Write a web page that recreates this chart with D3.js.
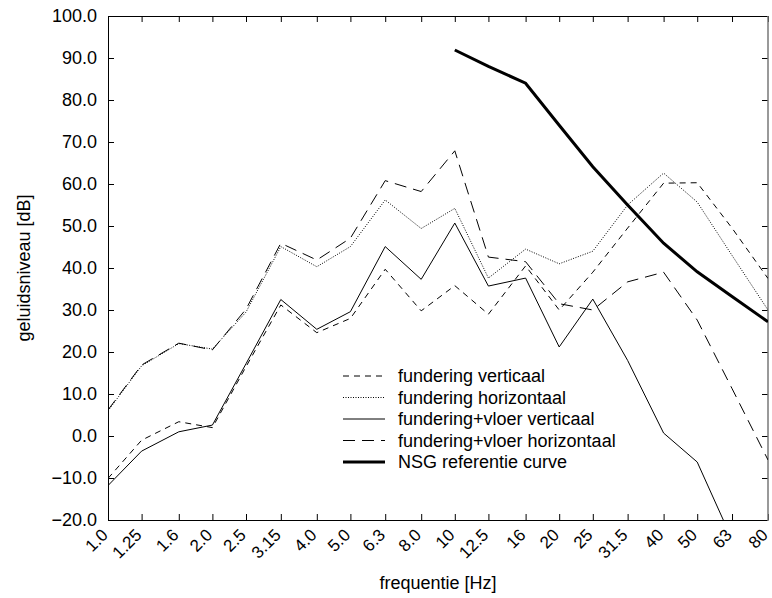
<!DOCTYPE html>
<html>
<head>
<meta charset="utf-8">
<script src="https://cdn.jsdelivr.net/npm/d3@7"></script>
<style>
  body { margin: 0; background: #fff; }
  text { font-family: "Liberation Sans", Arial, Helvetica, sans-serif; fill: #000; }
</style>
</head>
<body>
<svg id="chart" width="772" height="598"></svg>
<script>
// Third-octave band centre frequencies (Hz)
const freqLabels = ["1.0","1.25","1.6","2.0","2.5","3.15","4.0","5.0","6.3","8.0",
                    "10","12.5","16","20","25","31.5","40","50","63","80"];
const freqs = [1.0,1.25,1.6,2.0,2.5,3.15,4.0,5.0,6.3,8.0,10,12.5,16,20,25,31.5,40,50,63,80];
const yTicks = [-20,-10,0,10,20,30,40,50,60,70,80,90,100];

// Sound levels in dB per band
const funderingVerticaal   = [-10.1,-1.0,3.4,2.0,16.5,31.2,24.6,28.0,39.7,29.8,35.8,29.0,40.5,30.0,39.0,49.5,60.2,60.3,49.5,37.5];
const funderingHorizontaal = [6.0,16.7,22.0,20.7,29.5,45.1,40.3,45.1,56.2,49.4,54.2,37.6,44.5,41.0,44.0,55.0,62.6,55.7,43.0,30.0];
const vloerVerticaal       = [-11.8,-3.6,1.0,2.6,17.2,32.5,25.4,29.6,45.1,37.3,50.7,35.7,37.6,21.2,32.6,18.0,0.7,-6.2,-24.6,null];
const vloerHorizontaal     = [6.2,16.9,22.1,20.5,30.2,45.9,41.9,47.1,60.8,58.2,67.9,42.6,41.5,31.5,30.0,36.7,39.0,27.6,11.3,-5.7];
const nsgReferentie        = [null,null,null,null,null,null,null,null,null,null,91.9,88.0,84.0,74.0,64.1,55.0,45.9,39.1,33.2,27.2];

const seriesNames = ["fundering verticaal","fundering horizontaal","fundering+vloer verticaal",
                     "fundering+vloer horizontaal","NSG referentie curve"];
const seriesValues = [funderingVerticaal, funderingHorizontaal, vloerVerticaal, vloerHorizontaal, nsgReferentie];
const seriesStyles = [
  { width: 1,   dash: "6,5" },
  { width: 1,   dash: "1,1.5" },
  { width: 1,   dash: null },
  { width: 1,   dash: "12,7" },
  { width: 3,   dash: null }
];

const fontSize = "18px";
const xLabelSize = "17px";
const svg = d3.select("#chart");
const plotLeft = 108, plotRight = 768, plotTop = 16, plotBottom = 520;

const x = d3.scaleLog().domain([1, 80]).range([plotLeft, plotRight]);
const y = d3.scaleLinear().domain([-20, 100]).range([plotBottom, plotTop]);
const fmt = d3.format(".1f");

svg.append("defs").append("clipPath").attr("id", "plotClip")
  .append("rect").attr("x", plotLeft).attr("y", plotTop)
  .attr("width", plotRight - plotLeft).attr("height", plotBottom - plotTop);

// Left axis with inward ticks
const yAxis = svg.append("g").attr("transform", `translate(${plotLeft},0)`)
  .call(d3.axisLeft(y).tickValues(yTicks).tickFormat(fmt).tickSizeInner(-6).tickSizeOuter(0).tickPadding(11));
yAxis.selectAll("text").style("font-size", fontSize);

// Right axis ticks
svg.append("g").attr("transform", `translate(${plotRight},0)`)
  .call(d3.axisRight(y).tickValues(yTicks).tickFormat("").tickSizeInner(-6).tickSizeOuter(0));

// Bottom axis with inward ticks and rotated labels
svg.append("g").attr("transform", `translate(0,${plotBottom})`)
  .call(d3.axisBottom(x).tickValues(freqs).tickFormat("").tickSizeInner(-6).tickSizeOuter(0));

svg.append("g").selectAll("text").data(freqs).join("text")
  .attr("text-anchor", "end")
  .attr("transform", (d) => `translate(${x(d) + 1},${plotBottom + 16}) rotate(-45)`)
  .style("font-size", xLabelSize)
  .text((d, i) => freqLabels[i]);

// Top axis ticks
svg.append("g").attr("transform", `translate(0,${plotTop})`)
  .call(d3.axisTop(x).tickValues(freqs).tickFormat("").tickSizeInner(-6).tickSizeOuter(0));

svg.selectAll(".domain").remove();
svg.selectAll(".tick line").attr("stroke", "#000");

// Frame
svg.append("line").attr("x1", plotLeft).attr("x2", plotRight).attr("y1", plotTop + 0.5).attr("y2", plotTop + 0.5).attr("stroke", "#000");
svg.append("line").attr("x1", plotLeft).attr("x2", plotRight).attr("y1", plotBottom + 0.5).attr("y2", plotBottom + 0.5).attr("stroke", "#000");
svg.append("line").attr("x1", plotLeft + 0.5).attr("x2", plotLeft + 0.5).attr("y1", plotTop).attr("y2", plotBottom + 1).attr("stroke", "#000");
svg.append("line").attr("x1", plotRight).attr("x2", plotRight).attr("y1", plotTop).attr("y2", plotBottom + 1).attr("stroke", "#777").attr("stroke-width", 1.5);

// Series lines
const line = d3.line()
  .defined((d) => d != null)
  .x((d, i) => x(freqs[i]))
  .y((d) => y(d));

const plot = svg.append("g").attr("clip-path", "url(#plotClip)");
seriesValues.forEach((vals, k) => {
  plot.append("path")
    .attr("d", line(vals))
    .attr("fill", "none")
    .attr("stroke", "#000")
    .attr("stroke-width", seriesStyles[k].width)
    .attr("stroke-dasharray", seriesStyles[k].dash)
    .attr("stroke-linejoin", "miter");
});

// Legend
const legend = svg.append("g");
const legendY0 = 376, legendStep = 21.5;
seriesNames.forEach((name, k) => {
  const yy = legendY0 + k * legendStep;
  legend.append("line")
    .attr("x1", 343).attr("x2", 385).attr("y1", yy).attr("y2", yy)
    .attr("stroke", "#000")
    .attr("stroke-width", seriesStyles[k].width)
    .attr("stroke-dasharray", seriesStyles[k].dash);
  legend.append("text")
    .attr("x", 398).attr("y", yy).attr("dy", "0.35em")
    .style("font-size", fontSize)
    .text(name);
});

// Axis titles
svg.append("text")
  .attr("transform", `translate(30,${(plotTop + plotBottom) / 2}) rotate(-90)`)
  .attr("text-anchor", "middle")
  .style("font-size", fontSize)
  .text("geluidsniveau [dB]");

svg.append("text")
  .attr("x", (plotLeft + plotRight) / 2).attr("y", 589)
  .attr("text-anchor", "middle")
  .style("font-size", fontSize)
  .text("frequentie [Hz]");
</script>
</body>
</html>
